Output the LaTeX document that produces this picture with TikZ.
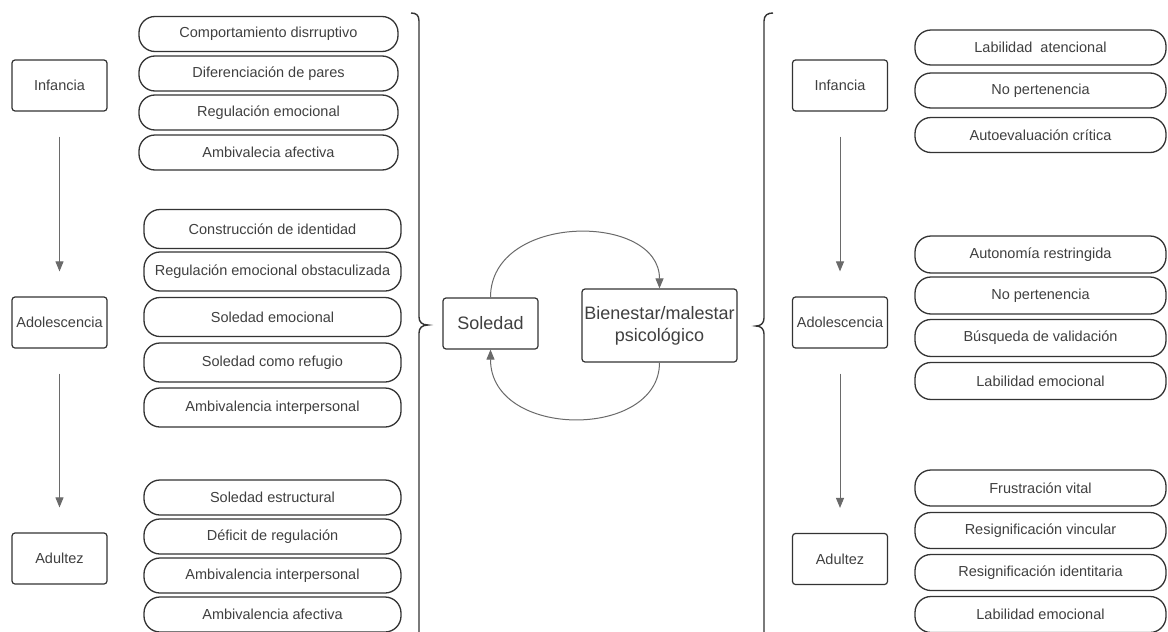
\documentclass[tikz,border=0pt]{standalone}
\usepackage{fontspec}
\setmainfont{Liberation Sans}
\usetikzlibrary{arrows.meta}
\definecolor{ln}{HTML}{333333}
\definecolor{tx}{HTML}{404040}
\definecolor{ar}{HTML}{6A6A6A}
\begin{document}
\begin{tikzpicture}[x=1pt,y=-1pt,
  small/.style={text=tx,font=\fontsize{14.5}{17}\selectfont},
  stage/.style={small,draw=ln,line width=1.2pt,rounded corners=3pt,minimum width=95pt,minimum height=51pt,inner sep=0pt},
  pill/.style={small,draw=ln,line width=1.3pt,rounded corners=16pt,minimum width=257pt,minimum height=35pt,inner sep=0pt},
  lpa/.style={pill,minimum width=259pt},
  lpb/.style={pill,minimum height=39pt},
  rpill/.style={pill,minimum width=251pt},
  rpb/.style={rpill,minimum height=37pt},
  core/.style={draw=ln,line width=1.2pt,rounded corners=3pt,inner sep=0pt,text=tx,font=\fontsize{18}{22}\selectfont,align=center},
  flow/.style={draw=ar,line width=1pt,-{Triangle[length=10pt,width=8pt]},shorten <=25pt,shorten >=25pt},
  cyc/.style={draw=ar,line width=1pt,-{Triangle[length=10pt,width=8pt]}},
  brace/.style={draw=ln,line width=1.4pt}]
\useasboundingbox (0,0) rectangle (1168,632);
\fill[white] (0,0) rectangle (1168,632);

% left stages
\node[stage] (li) at (59.5,85.5) {Infancia};
\node[stage] (la) at (59.5,322.5) {Adolescencia};
\node[stage] (lu) at (59.5,558.5) {Adultez};
\draw[flow] (li) -- (la);
\draw[flow] (la) -- (lu);

% left pills
\node[lpa] (l1) at (268.5,34) {Comportamiento disrruptivo};
\node[lpa] (l2) at (268.5,73.5) {Diferenciación de pares};
\node[lpa] (l3) at (268.5,112.5) {Regulación emocional};
\node[lpa] (l4) at (268.5,152.5) {Ambivalecia afectiva};
\node[lpb] (l5) at (272.5,229) {Construcción de identidad};
\node[lpb] (l6) at (272.5,271.5) {Regulación emocional obstaculizada};
\node[lpb] (l7) at (272.5,317) {Soledad emocional};
\node[lpb] (l8) at (272.5,362.5) {Soledad como refugio};
\node[lpb] (l9) at (272.5,407.5) {Ambivalencia interpersonal};
\node[pill] (l10) at (272.5,497.5) {Soledad estructural};
\node[pill] (l11) at (272.5,536.5) {Déficit de regulación};
\node[pill] (l12) at (272.5,575.5) {Ambivalencia interpersonal};
\node[pill] (l13) at (272.5,614.5) {Ambivalencia afectiva};

% braces
\draw[brace] (411,13) .. controls (416,13) and (419,15) .. (419,21) -- (419,317)
  .. controls (419,322) and (422,325) .. (428,325)
  .. controls (422,325) and (419,328) .. (419,333) -- (419,632);
\draw[brace] (773,13) .. controls (768,13) and (764,15) .. (764,21) -- (764,318)
  .. controls (764,323) and (761,326) .. (756,326)
  .. controls (761,326) and (764,329) .. (764,334) -- (764,632);

% centre cycle
\node[core,minimum width=95pt,minimum height=51pt] (sol) at (490.5,323.5) {Soledad};
\node[core,minimum width=155pt,minimum height=73pt] (bien) at (659.5,325.5) {Bienestar/malestar\\psicológico};
\draw[cyc] (sol.north) .. controls +(0,-85) and +(0,-76) .. (bien.north);
\draw[cyc] (bien.south) .. controls +(0,77) and +(0,90) .. (sol.south);

% right stages
\node[stage] (ri) at (840,85.5) {Infancia};
\node[stage] (ra) at (840,322.5) {Adolescencia};
\node[stage] (ru) at (840,559) {Adultez};
\draw[flow] (ri) -- (ra);
\draw[flow] (ra) -- (ru);

% right pills
\node[rpill] (r1) at (1040.5,47.5) {Labilidad\ \ atencional};
\node[rpill] (r2) at (1040.5,90.5) {No pertenencia};
\node[rpill] (r3) at (1040.5,135) {Autoevaluación crítica};
\node[rpb] (r4) at (1040.5,254.5) {Autonomía restringida};
\node[rpb] (r5) at (1040.5,295.5) {No pertenencia};
\node[rpb] (r6) at (1040.5,338) {Búsqueda de validación};
\node[rpb] (r7) at (1040.5,381) {Labilidad emocional};
\node[rpill,minimum height=36pt] (r8) at (1040.5,488) {Frustración vital};
\node[rpill,minimum height=36pt] (r9) at (1040.5,530.5) {Resignificación vincular};
\node[rpill,minimum height=36pt] (r10) at (1040.5,572.5) {Resignificación identitaria};
\node[rpill,minimum height=36pt] (r11) at (1040.5,614.5) {Labilidad emocional};
\end{tikzpicture}
\end{document}
